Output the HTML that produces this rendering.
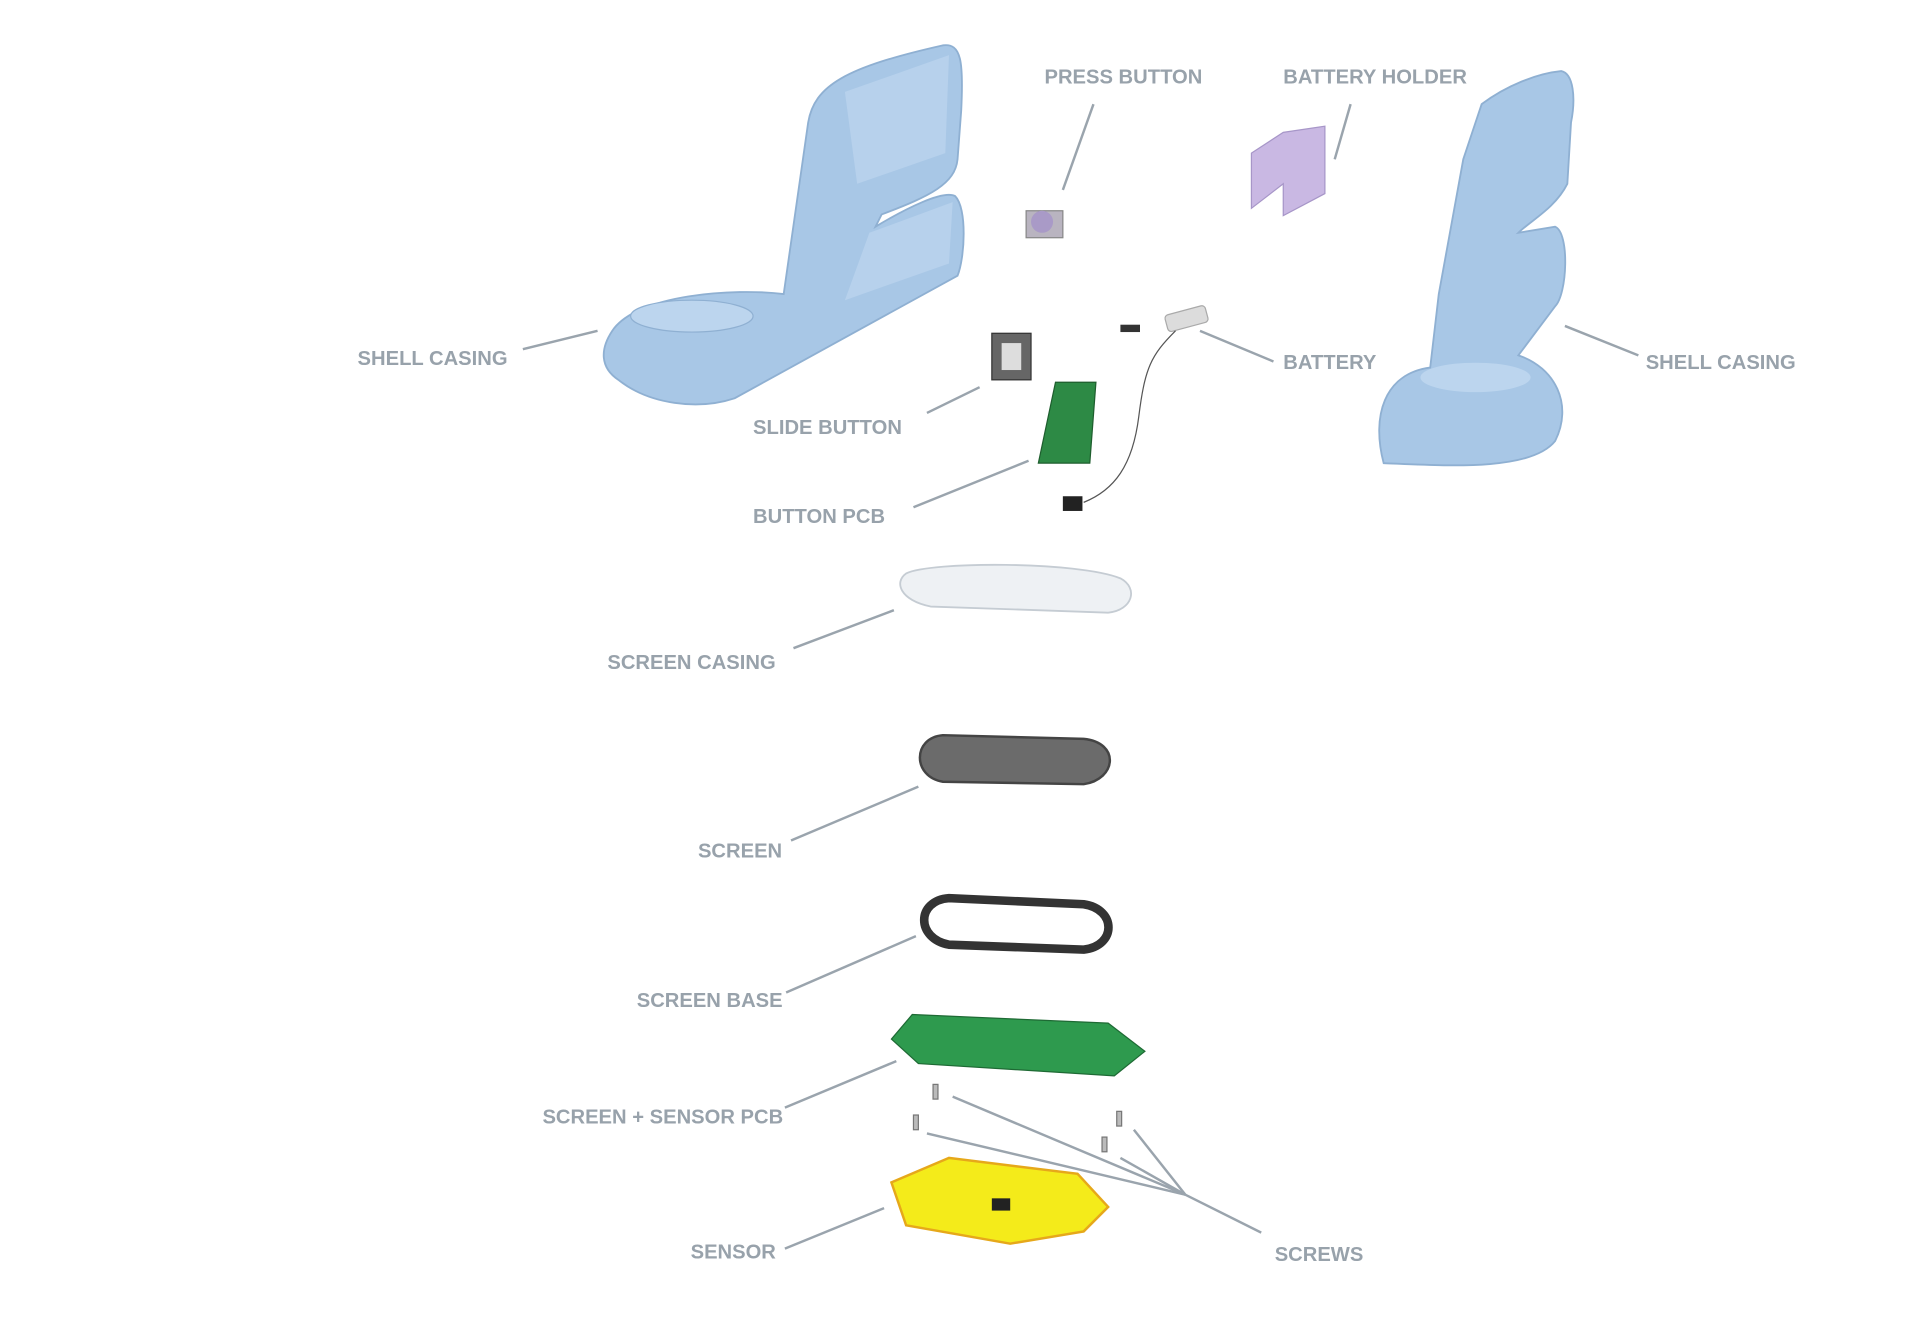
<!DOCTYPE html>
<html><head><meta charset="utf-8"><style>
html,body{margin:0;padding:0;background:#fff;}
svg{display:block;}
text{font-family:"Liberation Sans",sans-serif;font-size:16.5px;fill:#98a2ab;font-weight:bold;letter-spacing:0;}
.ln{stroke:#9aa4ad;stroke-width:2;fill:none;}
</style></head><body>
<svg width="1920" height="1327" viewBox="0 0 1568 1083" preserveAspectRatio="none">
<g>
<path d="M500,270 C520,240 600,235 640,240 L660,100 C665,70 690,55 770,37 C785,35 787,50 785,90 L782,130 C780,150 760,160 720,175 L715,185 C740,170 770,155 780,160 C790,170 788,210 782,225 L600,325 C570,335 530,330 505,310 C490,300 490,285 500,270 Z" fill="#a8c7e6" stroke="#8fb0d2" stroke-width="1.5"/>
<ellipse cx="565" cy="258" rx="50" ry="13" fill="#bcd5ee" stroke="#8fb0d2"/>
<path d="M690,75 L775,45 L772,125 L700,150 Z" fill="#b7d1ec"/>
<path d="M710,190 L778,165 L775,215 L690,245 Z" fill="#b7d1ec"/>
</g>
<g>
<path d="M1210,85 C1230,70 1255,60 1275,58 C1285,60 1287,80 1283,100 L1280,150 C1270,170 1250,180 1240,190 L1270,185 C1282,190 1280,240 1270,250 L1240,290 C1270,300 1285,330 1270,360 C1250,385 1180,380 1130,378 C1120,340 1130,305 1168,300 L1175,240 L1195,130 Z" fill="#a8c7e6" stroke="#8fb0d2" stroke-width="1.5"/>
<ellipse cx="1205" cy="308" rx="45" ry="12" fill="#bcd5ee"/>
</g>
<g>
<rect x="838" y="172" width="30" height="22" fill="#b9b4c0" stroke="#888"/>
<circle cx="851" cy="181" r="9" fill="#a99ac7"/>
</g>
<path d="M1022,125 L1048,108 L1082,103 L1082,158 L1048,176 L1048,150 L1022,170 Z" fill="#c9b8e3" stroke="#a796c8"/>
<g>
<rect x="952" y="253" width="34" height="14" rx="3" fill="#dcdcdc" stroke="#aaa" transform="rotate(-15 969 260)"/>
<rect x="915" y="265" width="16" height="6" fill="#333"/>
<path d="M960,270 C940,290 935,300 930,340 C925,380 910,400 885,410" stroke="#555" fill="none"/>
<rect x="868" y="405" width="16" height="12" fill="#222"/>
</g>
<g>
<rect x="810" y="272" width="32" height="38" fill="#666" stroke="#333"/>
<rect x="818" y="280" width="16" height="22" fill="#ddd"/>
</g>
<path d="M862,312 L895,312 L890,378 L848,378 Z" fill="#2d8a45" stroke="#1e5e2e"/>
<g>
<path d="M740,468 C760,458 880,458 915,472 C930,480 925,498 905,500 L760,495 C735,490 730,475 740,468 Z" fill="#eef1f4" stroke="#c5ccd3" stroke-width="1.5"/>
</g>
<path d="M770,600 L885,603 C915,606 912,636 885,640 L770,638 C745,634 745,602 770,600 Z" fill="#6b6b6b" stroke="#444" stroke-width="2"/>
<path d="M775,733 L885,738 C912,742 912,772 885,775 L775,771 C748,766 748,735 775,733 Z" fill="none" stroke="#333" stroke-width="7"/>
<path d="M745,828 L905,835 L935,858 L910,878 L750,868 L728,848 Z" fill="#2e9a4e" stroke="#1e6a34"/>
<g fill="#bbb" stroke="#777">
<rect x="762" y="885" width="4" height="12"/><rect x="746" y="910" width="4" height="12"/><rect x="912" y="907" width="4" height="12"/><rect x="900" y="928" width="4" height="12"/>
</g>
<g>
<path d="M728,965 L775,945 L880,958 L905,985 L885,1005 L825,1015 L740,1000 Z" fill="#f4eb1a" stroke="#e6a81a" stroke-width="2"/>
<rect x="810" y="978" width="15" height="10" fill="#222"/>
</g>
<g>
<line class="ln" x1="893" y1="85" x2="868" y2="155"/>
<line class="ln" x1="1103" y1="85" x2="1090" y2="130"/>
<line class="ln" x1="427" y1="285" x2="488" y2="270"/>
<line class="ln" x1="757" y1="337" x2="800" y2="316"/>
<line class="ln" x1="1040" y1="295" x2="980" y2="270"/>
<line class="ln" x1="1338" y1="290" x2="1278" y2="266"/>
<line class="ln" x1="746" y1="414" x2="840" y2="376"/>
<line class="ln" x1="648" y1="529" x2="730" y2="498"/>
<line class="ln" x1="646" y1="686" x2="750" y2="642"/>
<line class="ln" x1="642" y1="810" x2="748" y2="764"/>
<line class="ln" x1="641" y1="904" x2="732" y2="866"/>
<line class="ln" x1="641" y1="1019" x2="722" y2="986"/>
<line class="ln" x1="1030" y1="1006" x2="968" y2="975"/>
<line class="ln" x1="968" y1="975" x2="778" y2="895"/>
<line class="ln" x1="968" y1="975" x2="757" y2="925"/>
<line class="ln" x1="968" y1="975" x2="926" y2="922"/>
<line class="ln" x1="968" y1="975" x2="915" y2="945"/>
</g>
<g>
<text x="853" y="68">PRESS BUTTON</text>
<text x="1048" y="68">BATTERY HOLDER</text>
<text x="292" y="298">SHELL CASING</text>
<text x="615" y="354">SLIDE BUTTON</text>
<text x="1048" y="301">BATTERY</text>
<text x="1344" y="301">SHELL CASING</text>
<text x="615" y="427">BUTTON PCB</text>
<text x="496" y="546">SCREEN CASING</text>
<text x="570" y="700">SCREEN</text>
<text x="520" y="822">SCREEN BASE</text>
<text x="443" y="917">SCREEN + SENSOR PCB</text>
<text x="564" y="1027">SENSOR</text>
<text x="1041" y="1029">SCREWS</text>
</g>
</svg>
</body></html>
